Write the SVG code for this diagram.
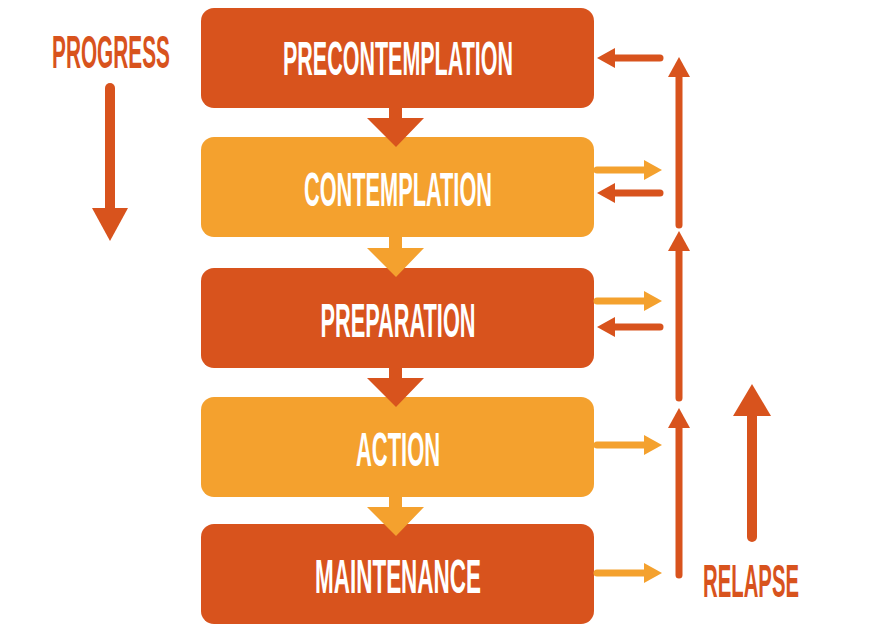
<svg xmlns="http://www.w3.org/2000/svg" width="876" height="643" viewBox="0 0 876 643">
<style>
.d{fill:#D8531D}.l{fill:#F4A12E}
.t{font-family:"Liberation Sans",Arial,sans-serif;font-weight:bold;font-size:48px;fill:#fff;text-anchor:middle}
.o{font-family:"Liberation Sans",Arial,sans-serif;font-weight:bold;font-size:46px;fill:#D8531D}
.sd{stroke:#D8531D;stroke-width:7;stroke-linecap:round;fill:none}
.sl{stroke:#F4A12E;stroke-width:7;stroke-linecap:round;fill:none}
</style>
<rect width="876" height="643" fill="#fff"/>
<g id="n1"><rect class="d" x="201" y="8" width="393" height="100" rx="13"/><text class="t" x="398" y="75" textLength="230" lengthAdjust="spacingAndGlyphs">PRECONTEMPLATION</text></g>
<g id="n2"><rect class="l" x="201" y="137" width="393" height="100" rx="13"/><text class="t" x="398" y="206" textLength="188" lengthAdjust="spacingAndGlyphs">CONTEMPLATION</text></g>
<g id="n3"><rect class="d" x="201" y="268" width="393" height="100" rx="13"/><text class="t" x="398" y="337" textLength="155" lengthAdjust="spacingAndGlyphs">PREPARATION</text></g>
<g id="n4"><rect class="l" x="201" y="397" width="393" height="100" rx="13"/><text class="t" x="398" y="466" textLength="84" lengthAdjust="spacingAndGlyphs">ACTION</text></g>
<g id="n5"><rect class="d" x="201" y="524" width="393" height="100" rx="13"/><text class="t" x="398" y="593" textLength="166" lengthAdjust="spacingAndGlyphs">MAINTENANCE</text></g>
<g id="connectors">
<polygon class="d" points="389,106 402,106 402,118 424,118 396,147 367,118 389,118"/>
<polygon class="l" points="389,235 402,235 402,248 424,248 396,277 367,248 389,248"/>
<polygon class="d" points="389,366 402,366 402,378 424,378 396,407 367,378 389,378"/>
<polygon class="l" points="389,495 402,495 402,507 424,507 396,536 367,507 389,507"/>
<line class="sd" x1="660" y1="58" x2="612" y2="58"/><polygon class="d" points="597,58 615,48 615,68"/>
<line class="sl" x1="597" y1="170" x2="645" y2="170"/><polygon class="l" points="662,170 644,160 644,180"/>
<line class="sd" x1="660" y1="193" x2="612" y2="193"/><polygon class="d" points="597,193 615,183 615,203"/>
<line class="sl" x1="597" y1="301" x2="645" y2="301"/><polygon class="l" points="662,301 644,291 644,311"/>
<line class="sd" x1="660" y1="327" x2="612" y2="327"/><polygon class="d" points="597,327 615,317 615,337"/>
<line class="sl" x1="597" y1="445" x2="645" y2="445"/><polygon class="l" points="662,445 644,435 644,455"/>
<line class="sl" x1="597" y1="573" x2="645" y2="573"/><polygon class="l" points="662,573 644,563 644,583"/>
<line class="sd" x1="679" y1="225" x2="679" y2="72"/><polygon class="d" points="679,57 668,77 690,77"/>
<line class="sd" x1="679" y1="398" x2="679" y2="246"/><polygon class="d" points="679,231 668,251 690,251"/>
<line class="sd" x1="679" y1="575" x2="679" y2="424"/><polygon class="d" points="679,408 668,428 690,428"/>
<line x1="752" y1="537" x2="752" y2="405" stroke="#D8531D" stroke-width="10" stroke-linecap="round"/><polygon class="d" points="752,384 733,416 771,416"/>
<line x1="110" y1="88" x2="110" y2="212" stroke="#D8531D" stroke-width="10" stroke-linecap="round"/><polygon class="d" points="110,241 92,208 128,208"/>
</g>
<text class="o" x="52" y="68" textLength="118" lengthAdjust="spacingAndGlyphs">PROGRESS</text>
<text class="o" x="703" y="597" textLength="96" lengthAdjust="spacingAndGlyphs">RELAPSE</text>
</svg>
